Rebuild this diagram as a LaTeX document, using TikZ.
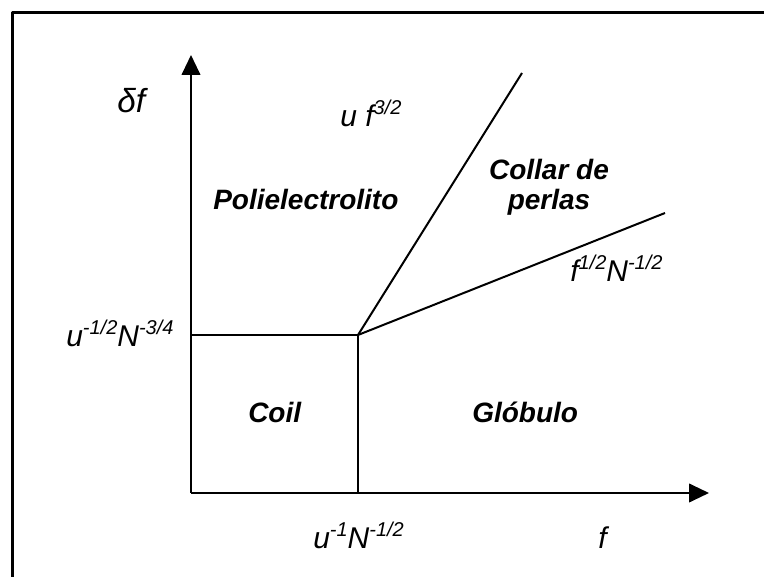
\documentclass[tikz,border=0pt]{standalone}
\usepackage{fontspec}
\setmainfont{Liberation Sans}
\usetikzlibrary{arrows.meta}
\newcommand{\expo}[1]{\raisebox{0.42em}{\fontsize{15}{15}\selectfont #1}}

\begin{document}
\begin{tikzpicture}[x=0.75pt, y=0.75pt, line join=round,
  axis/.style={line width=1.5pt, -{Triangle[length=15pt,width=14pt]}},
  border/.style={line width=2.25pt},
  phase/.style={line width=1.5pt},
  region/.style={font=\fontsize{21}{25}\selectfont\bfseries\itshape, inner sep=0pt, anchor=base west},
  scaling/.style={font=\fontsize{22.5}{26}\selectfont\itshape, inner sep=0pt, anchor=base west}]
  \useasboundingbox (0,0) rectangle (764,577);
  % frame
  \draw[border] (12,-5) -- (12,564) -- (770,564);
  % points of the phase diagram
  \coordinate (origin) at (191,84);
  \coordinate (ytop) at (191,522);
  \coordinate (xend) at (709,84);
  \coordinate (knee) at (358,242);
  \coordinate (kneeL) at (191,242);
  \coordinate (kneeB) at (358,84);
  \coordinate (steep) at (522,504);
  \coordinate (shallow) at (665,364);
  % axes
  \draw[axis] (origin) -- (ytop);
  \draw[axis] (origin) -- (xend);
  % boundaries
  \draw[phase] (kneeL) -- (knee) -- (kneeB);
  \draw[phase] (knee) -- (steep);
  \draw[phase] (knee) -- (shallow);
  % labels
  \node[scaling, font=\fontsize{25}{28}\selectfont\itshape] (df) at (117,464) {δf};
  \node[scaling] (uf) at (340,450) {u f\expo{3/2}};
  \node[region] (poly) at (213,367) {Polielectrolito};
  \node[region, anchor=base] (collar) at (549,397) {Collar de};
  \node[region, anchor=base] (perlas) at (549,367) {perlas};
  \node[scaling] (fN) at (570,295) {f\expo{1/2}N\expo{-1/2}};
  \node[scaling] (uN) at (66,230) {u\expo{-1/2}N\expo{-3/4}};
  \node[region] (coil) at (248,154) {Coil};
  \node[region] (glob) at (472,154) {Glóbulo};
  \node[scaling] (uNx) at (313,28) {u\expo{-1}N\expo{-1/2}};
  \node[scaling] (fx) at (598,28) {f};
\end{tikzpicture}
\end{document}
